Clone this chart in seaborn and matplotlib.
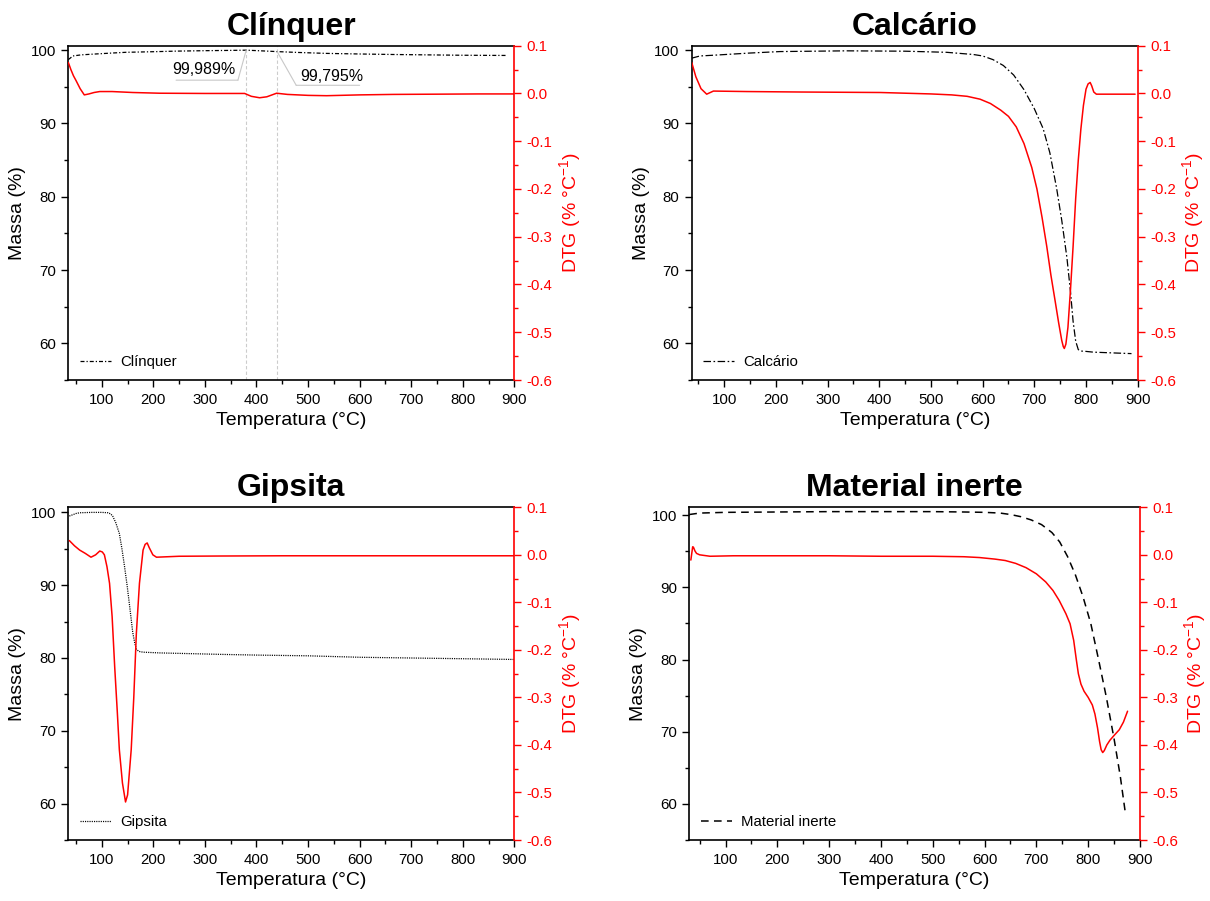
import matplotlib
matplotlib.use("Agg")
import matplotlib.pyplot as plt
import seaborn as sns
from matplotlib.ticker import MultipleLocator

# ---------------- data ----------------
# Clínquer
clq_tg_T = [35, 44, 60, 83, 120, 147, 200, 244, 300, 350, 380, 400, 440, 480, 536, 600, 665, 730, 795, 850, 885]
clq_tg_M = [98.7, 99.2, 99.35, 99.45, 99.6, 99.7, 99.78, 99.86, 99.92, 99.96, 99.989, 99.93, 99.795, 99.68,
            99.55, 99.47, 99.4, 99.35, 99.3, 99.28, 99.27]
clq_dtg_T = [35, 40, 45, 50, 58, 66, 75, 85, 96, 120, 160, 212, 300, 377, 390, 406, 420, 439, 460, 500, 536,
             600, 665, 750, 830, 900]
clq_dtg_D = [0.065, 0.05, 0.037, 0.027, 0.01, -0.003, -0.001, 0.002, 0.004, 0.004, 0.002, 0.0005, 0.0, 0.0,
             -0.006, -0.009, -0.007, 0.0005, -0.002, -0.004, -0.0047, -0.003, -0.002, -0.0015, -0.001, -0.001]

# Calcário
cal_tg_T = [37, 53, 79, 150, 208, 337, 450, 530, 582, 600, 620, 640, 660, 680, 700, 717, 730, 743, 753, 763,
            770, 775, 780, 785, 790, 800, 814, 850, 888]
cal_tg_M = [98.9, 99.2, 99.3, 99.6, 99.8, 99.9, 99.85, 99.7, 99.4, 99.2, 98.7, 97.9, 96.6, 94.6, 92.0, 89.3,
            86.0, 81.2, 76.8, 71.7, 67.0, 63.0, 60.3, 59.15, 58.95, 58.9, 58.8, 58.7, 58.6]
cal_dtg_T = [37, 45, 55, 66, 79, 144, 250, 402, 500, 540, 570, 595, 615, 635, 650, 665, 680, 695, 705, 715,
             724, 732, 740, 747, 753, 756, 758, 761, 765, 770, 775, 780, 785, 790, 795, 800, 804, 808, 811,
             815, 820, 860, 895]
cal_dtg_D = [0.065, 0.035, 0.01, -0.0015, 0.005, 0.004, 0.003, 0.002, -0.001, -0.003, -0.006, -0.012, -0.021,
             -0.035, -0.048, -0.07, -0.105, -0.155, -0.2, -0.26, -0.32, -0.38, -0.433, -0.48, -0.517, -0.53,
             -0.534, -0.525, -0.49, -0.41, -0.32, -0.22, -0.14, -0.075, -0.025, 0.009, 0.02, 0.023, 0.016,
             0.003, -0.0015, -0.0015, -0.0015]

# Gipsita
gip_tg_T = [37, 50, 57, 80, 100, 112, 117, 121, 127, 134, 139, 144, 149, 154, 160, 164, 167, 172, 180, 212,
            329, 400, 500, 600, 700, 800, 900]
gip_tg_M = [99.5, 99.85, 99.95, 100.0, 100.0, 99.95, 99.8, 99.5, 98.6, 97.1, 95.0, 92.6, 90.0, 87.1, 83.5,
            82.0, 81.2, 80.9, 80.8, 80.7, 80.5, 80.4, 80.3, 80.1, 80.0, 79.9, 79.8]
gip_dtg_T = [37, 47, 57, 68, 79, 88, 96, 101, 105, 110, 115, 120, 125, 130, 134, 140, 146, 150, 157, 162,
             167, 173, 180, 184, 188, 192, 199, 206, 250, 329, 450, 600, 750, 900]
gip_dtg_D = [0.030, 0.019, 0.010, 0.003, -0.005, 0.0, 0.008, 0.006, 0.0, -0.025, -0.06, -0.13, -0.236, -0.33,
             -0.41, -0.48, -0.52, -0.505, -0.41, -0.30, -0.165, -0.06, 0.010, 0.022, 0.025, 0.015, 0.0,
             -0.005, -0.003, -0.0025, -0.002, -0.002, -0.002, -0.002]

# Material inerte
mat_tg_T = [30, 50, 100, 200, 300, 400, 500, 560, 600, 630, 650, 670, 690, 710, 730, 745, 760, 775, 790, 805,
            820, 835, 850, 862, 872]
mat_tg_M = [100.1, 100.3, 100.4, 100.45, 100.5, 100.5, 100.5, 100.45, 100.4, 100.3, 100.1, 99.8, 99.35, 98.7,
            97.6, 96.3, 94.3, 91.8, 88.7, 85.0, 80.0, 74.8, 69.0, 63.8, 58.6]
mat_dtg_T = [33, 35, 36.5, 38, 41, 44, 50, 70, 115, 200, 300, 400, 500, 560, 590, 620, 640, 660, 680, 700,
             718, 732, 744, 757, 765, 772, 777, 781, 786, 792, 800, 808, 813, 818, 822, 825, 828, 831, 836,
             842, 850, 860, 868, 876]
mat_dtg_D = [-0.011, 0.005, 0.017, 0.016, 0.008, 0.003, 0.0, -0.003, -0.002, -0.002, -0.002, -0.003, -0.003,
             -0.004, -0.0057, -0.009, -0.012, -0.018, -0.027, -0.04, -0.057, -0.075, -0.096, -0.124, -0.145,
             -0.18, -0.22, -0.25, -0.272, -0.287, -0.3, -0.316, -0.335, -0.364, -0.393, -0.41, -0.416, -0.412,
             -0.4, -0.39, -0.38, -0.368, -0.352, -0.329]

titles = ["Clínquer", "Calcário", "Gipsita", "Material inerte"]
x_ticks = [100, 200, 300, 400, 500, 600, 700, 800, 900]

ann_x = [380, 440]
ann_y = [99.989, 99.795]
ann_text = ["99,989%", "99,795%"]

# ---------------- style ----------------
sns.set_style("ticks")
plt.rcParams["font.family"] = ["Liberation Sans", "DejaVu Sans"]
plt.rcParams["axes.unicode_minus"] = False
plt.rcParams["mathtext.default"] = "regular"
plt.rcParams["xtick.direction"] = "out"
plt.rcParams["ytick.direction"] = "out"
plt.rcParams["text.color"] = "black"
plt.rcParams["axes.labelcolor"] = "black"

fig = plt.figure(figsize=(12.1, 9.01), dpi=100)

W, H = 1210.0, 901.0
def rect(l, r, t, b):
    return [l / W, 1 - b / H, (r - l) / W, (b - t) / H]

panels = [
    dict(rect=rect(68.3, 514.3, 45.7, 380), xlim=(35, 900), ylim=(55, 100.6),
         tg=(clq_tg_T, clq_tg_M), dtg=(clq_dtg_T, clq_dtg_D),
         ls=(0, (3.2, 1.6, 1.0, 1.6)), lw=0.9, title=titles[0]),
    dict(rect=rect(691.7, 1137.7, 45.7, 380), xlim=(37, 900), ylim=(55, 100.6),
         tg=(cal_tg_T, cal_tg_M), dtg=(cal_dtg_T, cal_dtg_D),
         ls=(0, (6, 2, 1.3, 2)), lw=0.9, title=titles[1]),
    dict(rect=rect(68.3, 514.3, 507.3, 840), xlim=(35, 900), ylim=(55, 100.7),
         tg=(gip_tg_T, gip_tg_M), dtg=(gip_dtg_T, gip_dtg_D),
         ls=(0, (0.9, 0.9)), lw=0.9, title=titles[2]),
    dict(rect=rect(689.3, 1140, 507.3, 840), xlim=(30, 900), ylim=(55, 101.1),
         tg=(mat_tg_T, mat_tg_M), dtg=(mat_dtg_T, mat_dtg_D),
         ls=(0, (5, 3.5)), lw=1.1, title=titles[3]),
]

RED = "#ff0000"
LEADER = "#c8c8c8"
for i, p in enumerate(panels):
    ax = fig.add_axes(p["rect"])
    ax2 = ax.twinx()

    sns.lineplot(x=p["tg"][0], y=p["tg"][1], ax=ax, color="black", linewidth=p["lw"],
                 linestyle=p["ls"], estimator=None, errorbar=None, label=p["title"])
    sns.lineplot(x=p["dtg"][0], y=p["dtg"][1], ax=ax2, color=RED, linewidth=1.1,
                 estimator=None, errorbar=None)

    ax.set_xlim(*p["xlim"])
    ax.set_ylim(*p["ylim"])
    ax2.set_ylim(-0.6, 0.1)

    ax.set_xticks(x_ticks)
    ax.xaxis.set_minor_locator(MultipleLocator(50))
    ax.set_yticks([60, 70, 80, 90, 100])
    ax.yaxis.set_minor_locator(MultipleLocator(5))
    ax2.set_yticks([0.1, 0.0, -0.1, -0.2, -0.3, -0.4, -0.5, -0.6])
    ax2.set_yticklabels(["0.1", "0.0", "-0.1", "-0.2", "-0.3", "-0.4", "-0.5", "-0.6"])
    ax2.yaxis.set_minor_locator(MultipleLocator(0.05))

    ax.tick_params(axis="both", which="major", length=5, width=1.0, labelsize=10.8, color="black",
                   labelcolor="black", pad=4)
    ax.tick_params(axis="both", which="minor", length=3, width=1.0, color="black")
    ax2.tick_params(axis="y", which="major", length=5, width=1.0, labelsize=10.8, color=RED,
                    labelcolor=RED, pad=4)
    ax2.tick_params(axis="y", which="minor", length=3, width=1.0, color=RED)

    for s in ["left", "bottom", "top"]:
        ax.spines[s].set_color("black")
        ax.spines[s].set_linewidth(1.2)
    ax.spines["right"].set_visible(False)
    ax2.spines["right"].set_color(RED)
    ax2.spines["right"].set_linewidth(1.2)
    for s in ["left", "bottom", "top"]:
        ax2.spines[s].set_visible(False)

    ax.set_xlabel("Temperatura (°C)", fontsize=14, color="black", labelpad=4)
    ax.set_ylabel("Massa (%)", fontsize=14, color="black", labelpad=3)
    ax2.set_ylabel("DTG (% °C$^{-1}$)", fontsize=14, color=RED, labelpad=3)
    ax.set_title(p["title"], fontsize=23, fontweight="bold", pad=8, color="black")

    ax.legend(loc="lower left", frameon=False, fontsize=10.8, handlelength=2.1,
              handletextpad=0.6, borderaxespad=0.45, borderpad=0.3)

    if i == 0:
        for xv in ann_x:
            ax.axvline(xv, color="#cccccc", lw=0.8, ls=(0, (3, 2)), zorder=0)
        line_kw = dict(arrowstyle="-", color=LEADER, lw=0.8, shrinkA=0, shrinkB=0)
        # label 1: underline, leader up to the point
        ax.annotate(ann_text[0], xy=(298, 97.37), ha="center", va="center", fontsize=11.5, color="black")
        ax.annotate("", xy=(364, 95.9), xytext=(244, 95.9), arrowprops=line_kw)
        ax.annotate("", xy=(ann_x[0], ann_y[0]), xytext=(364, 95.9), arrowprops=line_kw)
        # label 2
        ax.annotate(ann_text[1], xy=(546, 96.34), ha="center", va="center", fontsize=11.5, color="black")
        ax.annotate("", xy=(600, 95.2), xytext=(477, 95.2), arrowprops=line_kw)
        ax.annotate("", xy=(ann_x[1], ann_y[1]), xytext=(477, 95.2), arrowprops=line_kw)

fig.savefig("out.png", dpi=100)
